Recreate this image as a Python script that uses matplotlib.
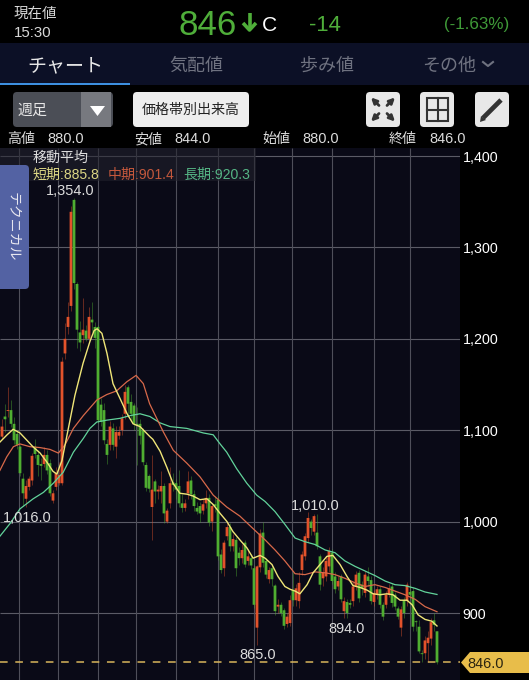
import matplotlib
matplotlib.use("Agg")
import matplotlib.pyplot as plt
from matplotlib.patches import FancyBboxPatch, Polygon, Rectangle

FONT = ["Liberation Sans", "Noto Sans CJK JP", "DejaVu Sans"]
plt.rcParams["font.family"] = FONT

# weekly candles, oldest first
opens = [1093, 1115, 1121, 1122, 1107, 1096, 1082, 1047, 1025, 1038,
         1045, 1082, 1073, 1063, 1063, 1073, 1064, 1023, 1038, 1042,
         1042, 1184, 1213, 1236, 1352, 1260, 1207, 1204, 1209, 1200,
         1221, 1213, 1213, 1128, 1122, 1085, 1084, 1102, 1082, 1094,
         1100, 1118, 1147, 1131, 1127, 1107, 1107, 1100, 1062, 1050,
         1016, 1044, 1033, 1033, 1039, 1000, 1020, 1043, 1042, 1039,
         1020, 1015, 1031, 1045, 1030, 1015, 1017, 1012, 1020, 1026,
         1000, 1019, 1024, 964, 949, 984, 994, 973, 980, 966,
         960, 977, 957, 960, 949, 884, 950, 988, 957, 937,
         949, 930, 907, 909, 903, 888, 889, 925, 914, 913,
         947, 962, 982, 1000, 989, 988, 962, 938, 940, 951,
         966, 940, 929, 940, 902, 912, 911, 913, 929, 944,
         931, 922, 940, 936, 912, 920, 926, 909, 909, 920,
         929, 920, 905, 884, 914, 913, 923, 924, 891, 885,
         856, 856, 867, 872, 892, 880]
closes = [1104, 1112, 1122, 1107, 1089, 1084, 1053, 1031, 1039, 1047,
          1072, 1074, 1062, 1061, 1073, 1056, 1031, 1031, 1053, 1051,
          1175, 1200, 1224, 1339, 1261, 1210, 1196, 1210, 1200, 1224,
          1218, 1201, 1111, 1109, 1089, 1073, 1104, 1084, 1098, 1098,
          1113, 1142, 1129, 1118, 1107, 1105, 1094, 1065, 1037, 1036,
          1035, 1033, 1035, 1039, 1009, 1012, 1042, 1040, 1035, 1020,
          1015, 1020, 1044, 1030, 1017, 1011, 1009, 1019, 1026, 999,
          1017, 1017, 962, 947, 977, 994, 973, 981, 949, 960,
          969, 953, 962, 952, 909, 951, 987, 955, 942, 947,
          937, 902, 909, 900, 886, 896, 914, 914, 927, 933,
          964, 984, 1004, 993, 1006, 973, 931, 944, 957, 968,
          935, 926, 935, 915, 913, 900, 909, 929, 942, 916,
          927, 942, 935, 913, 922, 926, 909, 896, 920, 927,
          911, 907, 896, 904, 900, 931, 920, 885, 890, 858,
          855, 870, 873, 890, 887, 846]
highs = [1112, 1129, 1147, 1133, 1115, 1100, 1084, 1053, 1045, 1050,
         1075, 1090, 1078, 1070, 1082, 1078, 1068, 1035, 1060, 1065,
         1180, 1217, 1240, 1345, 1354, 1262, 1220, 1245, 1215, 1235,
         1240, 1218, 1215, 1135, 1130, 1090, 1110, 1108, 1105, 1105,
         1118, 1150, 1150, 1140, 1130, 1125, 1112, 1102, 1065, 1052,
         1073, 1047, 1040, 1055, 1042, 1015, 1060, 1053, 1047, 1057,
         1030, 1025, 1055, 1050, 1035, 1022, 1022, 1025, 1035, 1030,
         1020, 1028, 1028, 970, 980, 1000, 998, 986, 983, 972,
         975, 980, 970, 965, 952, 953, 992, 1000, 960, 950,
         952, 932, 915, 912, 906, 900, 920, 945, 932, 945,
         968, 988, 1010, 1003, 1008, 1008, 965, 950, 962, 972,
         970, 945, 940, 943, 918, 915, 915, 934, 946, 947,
         935, 946, 950, 940, 925, 930, 930, 912, 924, 932,
         933, 923, 908, 908, 917, 934, 931, 928, 892, 892,
         860, 875, 880, 895, 900, 880]
lows = [1090, 1098, 1115, 1104, 1085, 1080, 1050, 1017, 1016, 1035,
        1040, 1070, 1050, 1045, 1060, 1052, 1028, 1020, 1035, 1040,
        1040, 1178, 1205, 1230, 1255, 1190, 1187, 1195, 1198, 1198,
        1208, 1190, 1108, 1105, 1085, 1063, 1078, 1078, 1070, 1090,
        1095, 1112, 1115, 1110, 1100, 1062, 1085, 1062, 1034, 1032,
        980, 1020, 1025, 1020, 998, 998, 1015, 1033, 1025, 1016,
        1010, 1012, 1025, 1025, 1012, 1008, 1000, 1008, 1015, 995,
        990, 1010, 958, 944, 940, 980, 968, 968, 940, 952,
        955, 950, 952, 948, 905, 865, 945, 950, 938, 933,
        930, 898, 900, 897, 882, 885, 886, 908, 908, 905,
        942, 958, 978, 985, 985, 970, 925, 930, 935, 945,
        932, 922, 925, 912, 895, 894, 905, 908, 925, 912,
        920, 918, 930, 910, 908, 915, 906, 892, 905, 917,
        907, 903, 893, 875, 895, 908, 915, 880, 880, 856,
        846, 850, 846, 865, 880, 844]

# moving averages: week position, price
short_week = [0.3, 2.7, 4.7, 7, 9.3, 11.3, 13.7, 16, 18, 19.3, 21, 23, 25.3, 28, 30.3, 31.7, 32.7,
              34.3, 36, 38, 40.3, 42.7, 44.7, 47, 50.3, 51.3, 53.7, 56, 58, 60.3, 62.7, 64.7, 67,
              69.3, 71.3, 73.7, 76, 78, 80.3, 82.7, 84.7, 87, 88.7, 91, 93, 95.3, 97, 98.7, 100.3,
              102.7, 104.7, 107, 109.3, 111.3, 113.7, 116, 118, 120.3, 122.7, 124.7, 127, 129.3,
              131.3, 133.7, 136, 137.7, 139.7, 142, 144.3, 146]
short_ma = [1087, 1095, 1101, 1097, 1089, 1082, 1075, 1065, 1055, 1052, 1067, 1100, 1138, 1173, 1197, 1209, 1211,
            1206, 1184, 1151, 1135, 1118, 1107, 1104, 1093, 1090, 1077, 1059, 1042, 1031, 1030, 1028, 1024,
            1025, 1019, 1009, 1000, 989, 980, 971, 960, 963, 960, 953, 940, 929, 926, 924, 921,
            931, 944, 953, 962, 963, 953, 940, 930, 928, 925, 921, 920, 921,
            920, 914, 914, 909, 898, 893, 891, 885.8]
mid_week = [0.3, 2.6, 4.8, 7, 10.3, 13.7, 17, 19.8, 22, 24.8, 28.1, 32.6, 35.9, 39.2, 42.6, 45.7, 48.1, 50.2,
            54.8, 58.1, 62.6, 67, 71.4, 75.9, 80.3, 84.8, 88.7, 92, 95.3, 98.7, 102, 105.3, 108.7, 112,
            115.3, 118.7, 122, 125.3, 128.7, 132, 135.3, 138.7, 142, 146]
mid_ma = [1056, 1071, 1082, 1085, 1082, 1081, 1079, 1075, 1084, 1102, 1116, 1133, 1139, 1143, 1153, 1160, 1151, 1129,
          1098, 1078, 1064, 1049, 1029, 1016, 1006, 992, 980, 969, 957, 943, 942, 945, 944, 942,
          938, 933, 929, 931, 928, 924, 920, 915, 907, 901.4]
long_week = [0.3, 3.7, 7, 11.4, 14.8, 18.1, 21.4, 24.8, 28.1, 30.3, 32.6, 35.9, 40.3, 43.7, 47, 50.3, 53.7, 57,
             62.6, 68.1, 71.4, 73.7, 75.9, 79.2, 82.6, 85.9, 88.7, 92, 95.3, 98.7, 102, 105.3, 108.7, 112,
             115.3, 118.7, 122, 125.3, 128.7, 132, 135.3, 138.7, 142, 146]
long_ma = [984, 998, 1014, 1025, 1032, 1042, 1054, 1076, 1091, 1102, 1109, 1111, 1113, 1116, 1118, 1115, 1108, 1104,
           1102, 1097, 1095, 1085, 1076, 1058, 1042, 1029, 1022, 1011, 997, 982, 978, 975, 969, 966,
           957, 951, 946, 941, 935, 931, 930, 927, 923, 920.3]

grid_weeks = [6.67, 19.67, 33, 45.67, 59, 73, 85, 97.67, 111, 125, 137]
price_ticks = [900, 1000, 1100, 1200, 1300, 1400]
price_labels = ["900", "1,000", "1,100", "1,200", "1,300", "1,400"]
last_price = 846

UP = "#e2522b"
DOWN = "#4fae31"
TEXT = "#dcdcdc"
W, H = 529, 680

fig = plt.figure(figsize=(W / 100, H / 100), dpi=100, facecolor="black")

# price chart
ax = fig.add_axes([0, 0, 460 / W, 532 / H], facecolor="#0a0a17")
ax.set_xlim(1 / 3, 461 / 3)
ax.set_ylim(826.7, 1408.8)
for s in ax.spines.values():
    s.set_visible(False)
ax.set_xticks([])
ax.yaxis.tick_right()
ax.set_yticks(price_ticks)
ax.set_yticklabels(price_labels, fontsize=10.3, color="white")
ax.tick_params(axis="y", length=0, pad=2)
ax.hlines(price_ticks, 1 / 3, 461 / 3, color="#5b5b66", lw=0.8, zorder=1)
ax.vlines(grid_weeks, 826.7, 1408.8, color="#4f4f5a", lw=0.8, zorder=1)

for i in range(len(opens)):
    week = i + 1
    col = UP if closes[i] >= opens[i] else DOWN
    ax.vlines(week, lows[i], highs[i], color=col, lw=0.6, alpha=0.5, zorder=2)
    bottom = min(opens[i], closes[i])
    ax.bar(week, abs(closes[i] - opens[i]), bottom=bottom, width=0.92, color=col, lw=0, zorder=3, snap=False)

ax.plot(long_week, long_ma, color="#62d39b", lw=0.9, zorder=4)
ax.plot(mid_week, mid_ma, color="#d8694a", lw=0.9, zorder=4)
ax.plot(short_week, short_ma, color="#f0e678", lw=1.0, zorder=5)
ax.axhline(last_price, color="#d9b65c", lw=1.1, dashes=(5, 5), zorder=5)

# everything else is drawn in pixel coordinates on top
ui = fig.add_axes([0, 0, 1, 1], facecolor="none")
ui.set_xlim(0, W)
ui.set_ylim(H, 0)
ui.axis("off")


def rrect(x0, y0, x1, y1, color, r=4, **kw):
    ui.add_patch(FancyBboxPatch((x0 + r, y0 + r), x1 - x0 - 2 * r, y1 - y0 - 2 * r,
                                boxstyle=f"round,pad={r},rounding_size={r}", fc=color, ec="none", **kw))


def label(x, y, s, px=13, color=TEXT, ha="left"):
    # baseline keeps mixed kana and digit strings on one line
    ui.text(x, y + px * 0.36, s, fontsize=px * 0.72, color=color, ha=ha, va="baseline", family=FONT)


# header
ui.add_patch(Rectangle((0, 43), W, 42, fc="#0c1026", ec="none"))
ui.add_patch(Rectangle((0, 83), 130, 2, fc="#3d8fe0", ec="none"))
label(14, 13, "現在値", 14.5, "#d8d8d8")
label(14, 32, "15:30", 15, "#d8d8d8")
label(178, 22, "846", 35, "#4fae3a")
ui.plot([249.5, 249.5], [13, 29], color="#4fae3a", lw=2.6, solid_capstyle="butt")
ui.plot([243, 249.5, 256], [23, 30, 23], color="#4fae3a", lw=2.6, solid_capstyle="butt")
label(262, 23, "C", 21, "white")
label(309, 23, "-14", 22, "#4fae3a")
label(444, 23, "(-1.63%)", 17, "#3f9a38")
label(65, 64, "チャート", 19, "#e8e8e8", ha="center")
label(196, 64, "気配値", 18, "#6f7280", ha="center")
label(327, 64, "歩み値", 18, "#6f7280", ha="center")
label(422, 64, "その他", 18, "#6f7280")
ui.plot([483, 488, 493], [62, 66, 62], color="#6f7280", lw=1.5)

# toolbar
rrect(13, 92, 113, 127, "#4b4e56")
ui.add_patch(Rectangle((81, 92), 30, 35, fc="#77797f", ec="none"))
ui.add_patch(Polygon([[90, 106], [105, 106], [97.5, 116]], fc="white", ec="none"))
label(18, 109, "週足", 15, "#e6e6e6")
rrect(133, 92, 249, 127, "#eeeeee")
label(191, 109, "価格帯別出来高", 14, "#222222", ha="center")
rrect(366, 92, 400, 127, "#e8e8e8")
rrect(420, 92, 454, 127, "#e8e8e8")
rrect(475, 92, 509, 127, "#e8e8e8")
for dx, dy in [(-1, -1), (1, -1), (-1, 1), (1, 1)]:
    ui.annotate("", xy=(383 + dx * 12, 109.5 + dy * 12), xytext=(383 + dx * 4, 109.5 + dy * 4),
                arrowprops=dict(arrowstyle="-|>", color="#333333", lw=2, mutation_scale=8, shrinkA=0, shrinkB=0))
ui.add_patch(Rectangle((427, 98), 21, 23, fc="none", ec="#333333", lw=1.5))
ui.plot([437.5, 437.5], [98, 121], color="#333333", lw=1.5)
ui.plot([427, 448], [109.5, 109.5], color="#333333", lw=1.5)
ui.plot([483, 501], [118, 100], color="#333333", lw=3.4, solid_capstyle="butt")
ui.add_patch(Polygon([[480, 122], [481, 116], [486, 120]], fc="#333333", ec="none"))

# OHLC row
for x, name, val in [(7, "高値", "880.0"), (134, "安値", "844.0"), (262, "始値", "880.0"), (389, "終値", "846.0")]:
    label(x, 138, name, 14)
    label(x + 40, 138, val, 14.5)

# moving average legend
ui.add_patch(Rectangle((0, 148), 256, 33, fc="#23232e", ec="none", alpha=0.55))
label(33, 157, "移動平均", 14)
label(33, 174, "短期:885.8", 14, "#dcd684")
label(108, 174, "中期:901.4", 14, "#c4583c")
label(183, 174, "長期:920.3", 14, "#55b585")

# technical tab
rrect(-6, 165, 29, 289, "#5362a3")
ui.text(13, 227, "テクニカル", fontsize=10, color="#e8e8f0", ha="center", va="center",
        rotation=270, rotation_mode="anchor", family=FONT)

# high / low markers
label(70, 190, "1,354.0", 14.5, ha="center")
label(3, 517, "1,016.0", 14.5)
label(291, 505, "1,010.0", 14.5)
label(328, 628, "894.0", 14.5)
label(239, 654, "865.0", 14.5)

# last price tag
ui.add_patch(Polygon([[461, 662.5], [470, 652], [529, 652], [529, 673], [470, 673]], fc="#e8bd4a", ec="none"))
label(467, 663, "846.0", 14.5, "#2b2410")

fig.savefig("out.png", dpi=100, facecolor="black")
